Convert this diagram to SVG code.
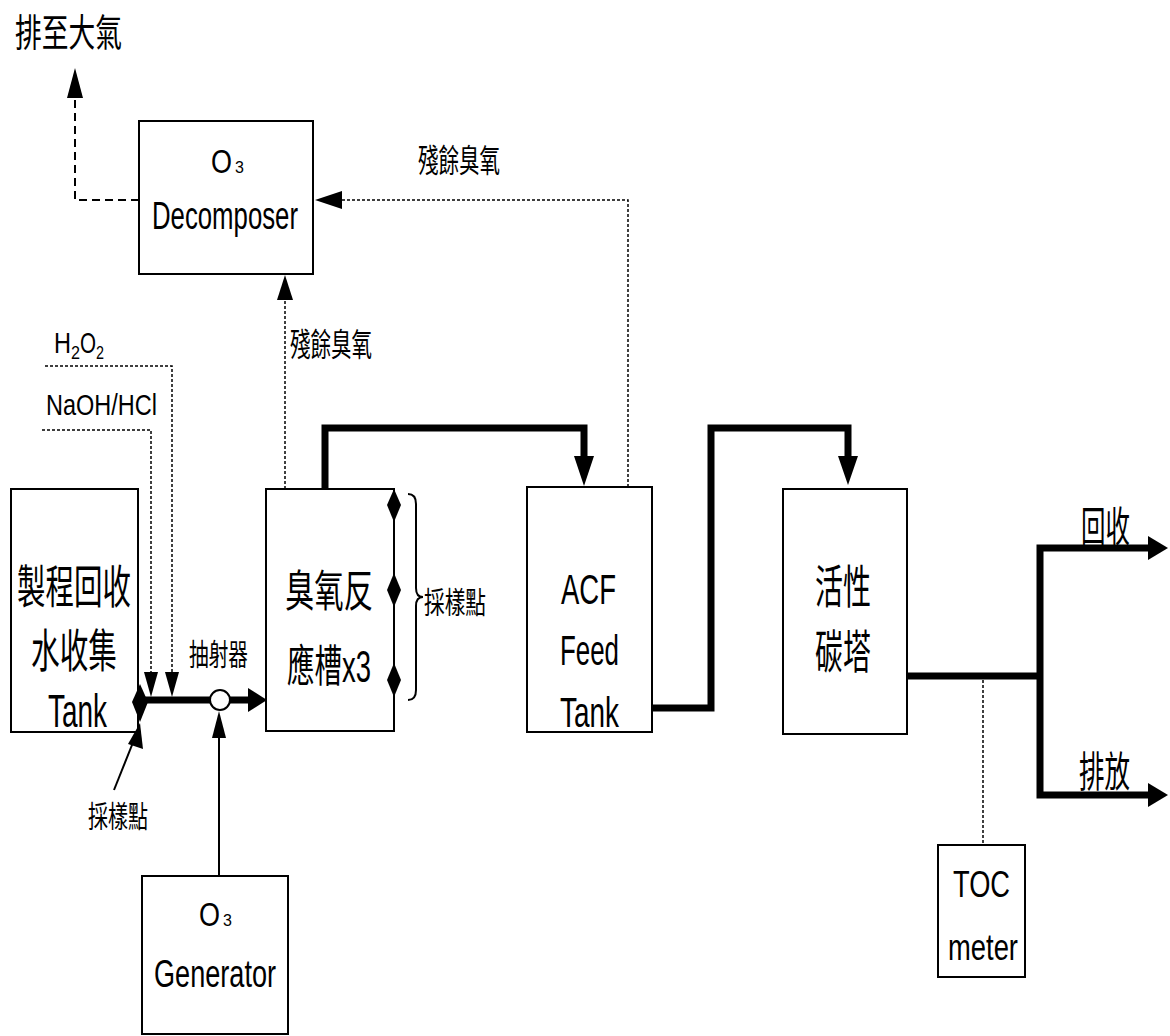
<svg xmlns="http://www.w3.org/2000/svg" width="1170" height="1036" viewBox="0 0 1170 1036">
<style>
.box{fill:#fff;stroke:#000;stroke-width:2}
.t{font-family:"Liberation Sans","Noto Sans CJK TC",sans-serif;fill:#000}
.thick{fill:none;stroke:#000;stroke-width:7}
.thin{fill:none;stroke:#000;stroke-width:2}
.dot{fill:none;stroke:#000;stroke-width:1.5;stroke-dasharray:3 2}
.dash{fill:none;stroke:#000;stroke-width:2;stroke-dasharray:8 5}
.ah{fill:#000}
</style>
<rect width="1170" height="1036" fill="#fff"/>
<g id="decomposer">
  <rect class="box" x="139" y="121" width="174" height="153"/>
  <text class="t" x="211" y="173" font-size="34" textLength="21" lengthAdjust="spacingAndGlyphs">O</text>
  <text class="t" x="235" y="173" font-size="16">3</text>
  <text class="t" x="152" y="229" font-size="38" textLength="146" lengthAdjust="spacingAndGlyphs">Decomposer</text>
</g>
<g id="tank">
  <rect class="box" x="11" y="489" width="127" height="243"/>
  <text class="t" x="17" y="603" font-size="46" textLength="114" lengthAdjust="spacingAndGlyphs">製程回收</text>
  <text class="t" x="31" y="667" font-size="46" textLength="86" lengthAdjust="spacingAndGlyphs">水收集</text>
  <text class="t" x="48" y="727" font-size="46" textLength="59" lengthAdjust="spacingAndGlyphs">Tank</text>
</g>
<g id="reactor">
  <rect class="box" x="266" y="489" width="128" height="242"/>
  <text class="t" x="285" y="607" font-size="44" textLength="88" lengthAdjust="spacingAndGlyphs">臭氧反</text>
  <text class="t" x="287" y="682" font-size="44" textLength="84" lengthAdjust="spacingAndGlyphs">應槽x3</text>
</g>
<g id="acf">
  <rect class="box" x="527" y="487" width="125" height="245"/>
  <text class="t" x="561" y="604" font-size="42" textLength="55" lengthAdjust="spacingAndGlyphs">ACF</text>
  <text class="t" x="560" y="665" font-size="42" textLength="59" lengthAdjust="spacingAndGlyphs">Feed</text>
  <text class="t" x="560" y="727" font-size="42" textLength="59" lengthAdjust="spacingAndGlyphs">Tank</text>
</g>
<g id="carbon">
  <rect class="box" x="783" y="489" width="124" height="245"/>
  <text class="t" x="815" y="603" font-size="46" textLength="56" lengthAdjust="spacingAndGlyphs">活性</text>
  <text class="t" x="815" y="668" font-size="46" textLength="56" lengthAdjust="spacingAndGlyphs">碳塔</text>
</g>
<g id="generator">
  <rect class="box" x="142" y="876" width="146" height="158"/>
  <text class="t" x="199" y="926" font-size="34" textLength="21" lengthAdjust="spacingAndGlyphs">O</text>
  <text class="t" x="223" y="926" font-size="16">3</text>
  <text class="t" x="154" y="987" font-size="38" textLength="122" lengthAdjust="spacingAndGlyphs">Generator</text>
</g>
<g id="toc">
  <rect class="box" x="938" y="845" width="87" height="132"/>
  <text class="t" x="953" y="897" font-size="36" textLength="57" lengthAdjust="spacingAndGlyphs">TOC</text>
  <text class="t" x="948" y="960" font-size="36" textLength="70" lengthAdjust="spacingAndGlyphs">meter</text>
</g>
<g id="connectors">
  <polyline class="dash" points="139,200 75,200 75,96"/>
  <polygon class="ah" points="75,68 67,98 83,98"/>
  <polyline class="dot" points="628,487 628,200 340,200"/>
  <polygon class="ah" points="315,200 342,191 342,209"/>
  <line class="dot" x1="285" y1="489" x2="285" y2="298"/>
  <polygon class="ah" points="285,275 277,300 293,300"/>
  <polyline class="dot" points="45,366 172,366 172,675"/>
  <polyline class="dot" points="42,430 151,430 151,675"/>
  <polygon class="ah" points="151,697 144,672 158,672"/>
  <polygon class="ah" points="172,697 165,672 179,672"/>
  <line class="thick" x1="140" y1="700" x2="248" y2="700"/>
  <polygon class="ah" points="267,700 248,688 248,712"/>
  <circle cx="220" cy="700" r="10" fill="#fff" stroke="#000" stroke-width="2"/>
  <line class="thin" x1="219" y1="876" x2="219" y2="735"/>
  <polygon class="ah" points="219,711 212,738 226,738"/>
  <polygon class="ah" points="140,684 148,702 140,722 132,702"/>
  <line class="thin" x1="114" y1="790" x2="134" y2="740"/>
  <polygon class="ah" points="140,723 128,744 143,749"/>
  <polyline class="thick" points="325,489 325,428 584,428 584,458"/>
  <polygon class="ah" points="584,486 574,456 594,456"/>
  <polyline class="thick" points="652,708 711,708 711,428 848,428 848,458"/>
  <polygon class="ah" points="848,485 838,456 858,456"/>
  <polyline class="thick" points="907,676 1040,676"/>
  <polyline class="thick" points="1152,548 1040,548 1040,795 1152,795"/>
  <polygon class="ah" points="1168,548 1148,536 1148,560"/>
  <polygon class="ah" points="1168,795 1148,783 1148,807"/>
  <line class="dot" x1="983" y1="680" x2="983" y2="845"/>
  <polygon class="ah" points="394,489 401,505 394,522 387,505"/>
  <polygon class="ah" points="394,573 401,590 394,607 387,590"/>
  <polygon class="ah" points="394,663 401,680 394,697 387,680"/>
  <path class="thin" d="M408,494 Q416,494 416,504 L416,588 Q416,597 423,597 Q416,597 416,606 L416,690 Q416,700 408,700" stroke-width="1.5"/>
</g>
<g id="labels">
  <text class="t" x="15" y="46" font-size="38" textLength="107" lengthAdjust="spacingAndGlyphs">排至大氣</text>
  <text class="t" x="418" y="172" font-size="32" textLength="82" lengthAdjust="spacingAndGlyphs">殘餘臭氧</text>
  <text class="t" x="290" y="356" font-size="32" textLength="82" lengthAdjust="spacingAndGlyphs">殘餘臭氧</text>
  <text class="t" x="54" y="353" font-size="30"><tspan textLength="17" lengthAdjust="spacingAndGlyphs">H</tspan><tspan font-size="18" dy="6" textLength="9" lengthAdjust="spacingAndGlyphs">2</tspan><tspan dy="-6" textLength="16" lengthAdjust="spacingAndGlyphs">O</tspan><tspan font-size="18" dy="6" textLength="8" lengthAdjust="spacingAndGlyphs">2</tspan></text>
  <text class="t" x="46" y="415" font-size="30" textLength="111" lengthAdjust="spacingAndGlyphs">NaOH/HCl</text>
  <text class="t" x="189" y="665" font-size="30" textLength="59" lengthAdjust="spacingAndGlyphs">抽射器</text>
  <text class="t" x="424" y="613" font-size="30" textLength="62" lengthAdjust="spacingAndGlyphs">採樣點</text>
  <text class="t" x="88" y="827" font-size="30" textLength="60" lengthAdjust="spacingAndGlyphs">採樣點</text>
  <text class="t" x="1081" y="542" font-size="42" textLength="49" lengthAdjust="spacingAndGlyphs">回收</text>
  <text class="t" x="1079" y="787" font-size="42" textLength="51" lengthAdjust="spacingAndGlyphs">排放</text>
</g>
</svg>
